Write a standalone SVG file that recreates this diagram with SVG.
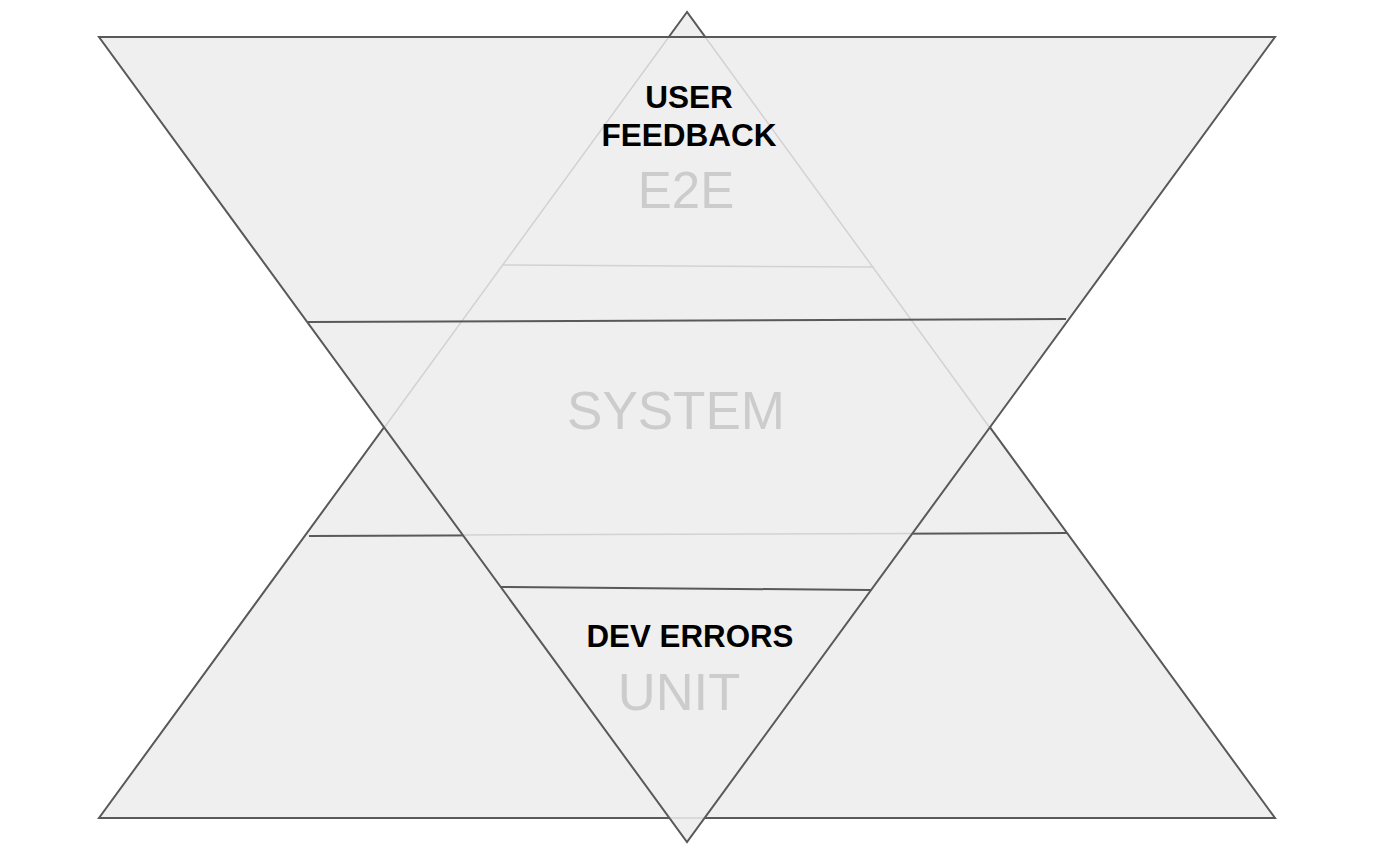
<svg xmlns="http://www.w3.org/2000/svg" width="1400" height="862" viewBox="0 0 1400 862">
  <style>
    .fill { fill: #efefef; stroke: none; }
    .edge { fill: none; stroke: #595959; stroke-width: 2; stroke-linejoin: miter; }
    .hidden { fill: none; stroke: #d2d2d2; stroke-width: 1.5; }
    .bold { font-family: "Liberation Sans", Arial, sans-serif; font-weight: bold; fill: #000000; text-anchor: middle; }
    .layer { font-family: "Liberation Sans", Arial, sans-serif; fill: #cccccc; text-anchor: middle; }
  </style>
  <rect width="1400" height="862" fill="#ffffff"/>

  <!-- Upright pyramid (behind) -->
  <g id="upright-pyramid">
    <polygon class="fill" points="687,12 99,818 1275,818"/>
    <polygon class="edge" points="687,12 99,818 1275,818"/>
    <line class="edge" x1="502" y1="265" x2="874" y2="267"/>
    <line class="edge" x1="309" y1="536" x2="1067" y2="533"/>
  </g>

  <!-- Inverted pyramid (front) -->
  <g id="inverted-pyramid">
    <polygon class="fill" points="99,37 1275,37 687,842"/>
    <!-- upright pyramid edges showing through -->
    <line class="hidden" x1="668.8" y1="37" x2="384" y2="428"/>
    <line class="hidden" x1="705.2" y1="37" x2="990" y2="428"/>
    <line class="hidden" x1="502" y1="265" x2="874" y2="267"/>
    <line class="hidden" x1="462.8" y1="535" x2="911.2" y2="533.5"/>
    <line class="hidden" x1="669.5" y1="818" x2="704.5" y2="818"/>
    <polygon class="edge" points="99,37 1275,37 687,842"/>
    <line class="edge" x1="308" y1="322" x2="1066" y2="319"/>
    <line class="edge" x1="501" y1="587" x2="871" y2="590"/>
  </g>

  <g id="e2e-layer">
    <text class="layer" x="686" y="208" font-size="51">E2E</text>
  </g>
  <g id="system-layer">
    <text class="layer" x="676" y="429" font-size="53">SYSTEM</text>
  </g>
  <g id="unit-layer">
    <text class="layer" x="679" y="710" font-size="52.5">UNIT</text>
  </g>
  <g id="user-feedback">
    <text class="bold" x="689" y="108" font-size="31.5">USER</text>
    <text class="bold" x="689" y="146" font-size="31.5">FEEDBACK</text>
  </g>
  <g id="dev-errors">
    <text class="bold" x="690" y="647" font-size="31.3">DEV ERRORS</text>
  </g>
  <g id="connectors"></g>
</svg>
